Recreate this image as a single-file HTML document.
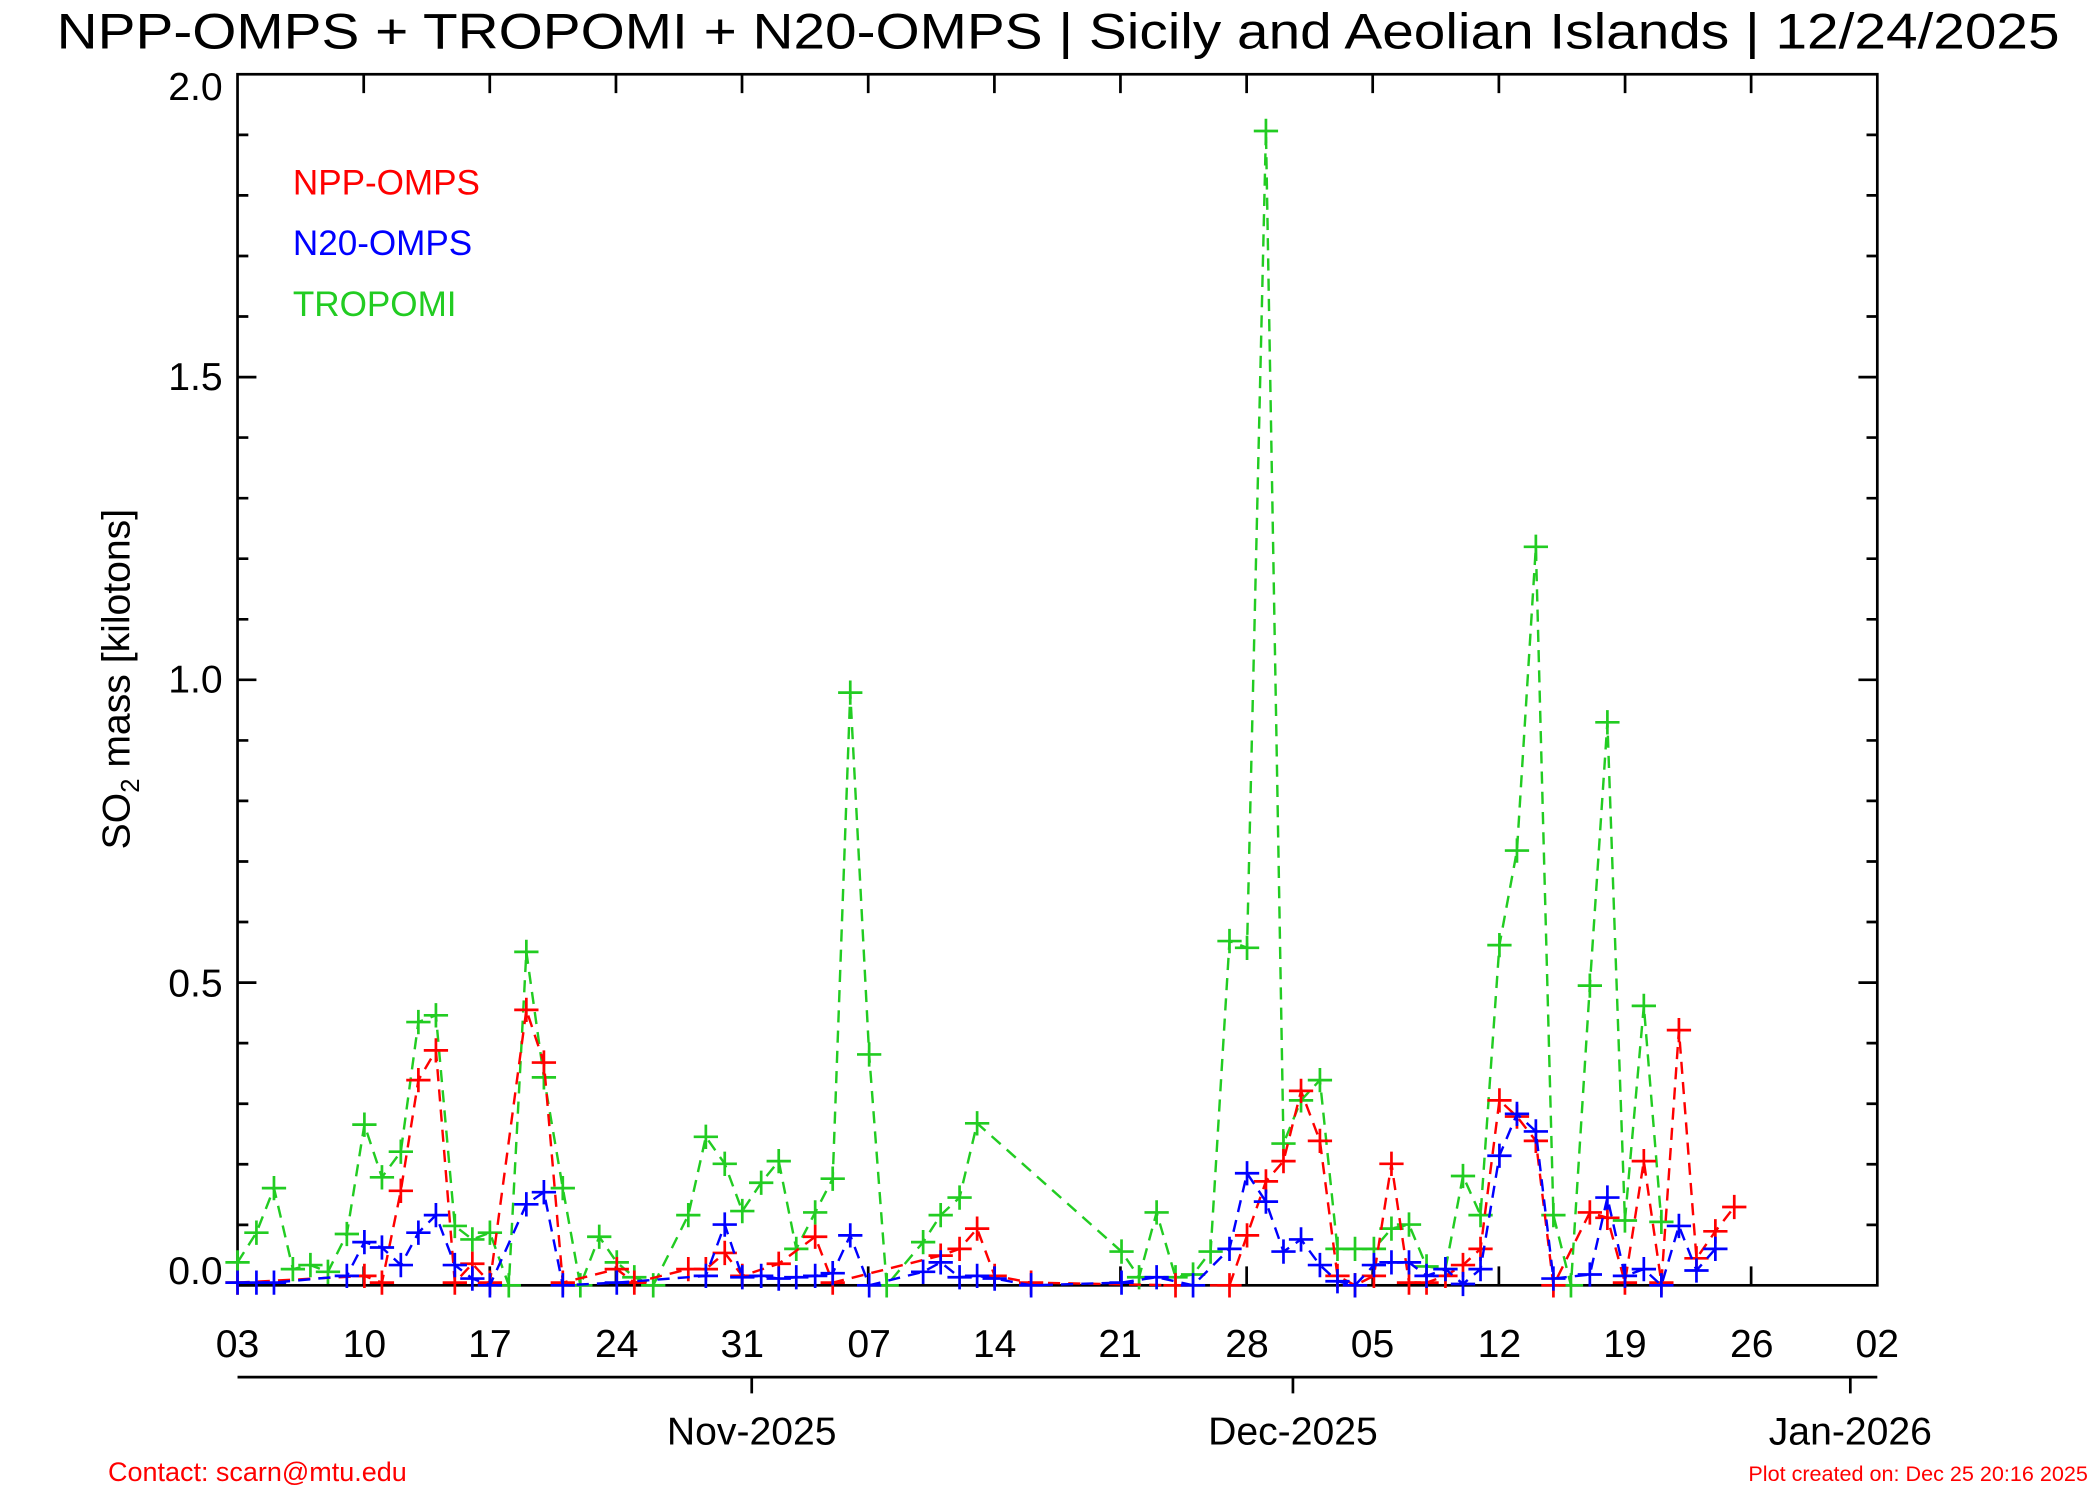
<!DOCTYPE html>
<html><head><meta charset="utf-8"><style>html,body{margin:0;padding:0;background:#fff}svg{display:block}</style></head><body>
<svg width="2100" height="1500" viewBox="0 0 1556 1111" preserveAspectRatio="none" xmlns="http://www.w3.org/2000/svg" font-family="Liberation Sans, sans-serif">
<defs>
<marker id="mg" markerUnits="userSpaceOnUse" markerWidth="20" markerHeight="20" refX="10" refY="10" orient="0" overflow="visible"><path d="M1 10h18M10 1v18" stroke="#2c2" stroke-width="2" stroke-dasharray="none" fill="none"/></marker>
<marker id="mr" markerUnits="userSpaceOnUse" markerWidth="20" markerHeight="20" refX="10" refY="10" orient="0" overflow="visible"><path d="M1 10h18M10 1v18" stroke="#f00" stroke-width="2" stroke-dasharray="none" fill="none"/></marker>
<marker id="mb" markerUnits="userSpaceOnUse" markerWidth="20" markerHeight="20" refX="10" refY="10" orient="0" overflow="visible"><path d="M1 10h18M10 1v18" stroke="#00f" stroke-width="2" stroke-dasharray="none" fill="none"/></marker>
</defs>
<rect width="1556" height="1111" fill="#fff"/>
<text x="784" y="36" font-size="37" text-anchor="middle" textLength="1484" lengthAdjust="spacingAndGlyphs">NPP-OMPS + TROPOMI + N20-OMPS | Sicily and Aeolian Islands | 12/24/2025</text>
<g stroke="#000" stroke-width="2" fill="none">
<rect x="176" y="55" width="1215" height="897"/>
<line x1="176" y1="1020" x2="1391" y2="1020"/>
<path d="M176 952h14M176 907.2h8M176 862.3h8M176 817.5h8M176 772.6h8M176 727.8h14M176 682.9h8M176 638.1h8M176 593.2h8M176 548.4h8M176 503.5h14M176 458.7h8M176 413.8h8M176 369h8M176 324.1h8M176 279.3h14M176 234.4h8M176 189.6h8M176 144.7h8M176 99.9h8
M1391 907.2h-8M1391 862.3h-8M1391 817.5h-8M1391 772.6h-8M1391 727.8h-14M1391 682.9h-8M1391 638.1h-8M1391 593.2h-8M1391 548.4h-8M1391 503.5h-14M1391 458.7h-8M1391 413.8h-8M1391 369h-8M1391 324.1h-8M1391 279.3h-14M1391 234.4h-8M1391 189.6h-8M1391 144.7h-8M1391 99.9h-8
M269.5 952v-14M362.9 952v-14M456.4 952v-14M549.8 952v-14M643.3 952v-14M736.8 952v-14M830.2 952v-14M923.7 952v-14M1017.1 952v-14M1110.6 952v-14M1204.1 952v-14M1297.5 952v-14
M269.5 55v14M362.9 55v14M456.4 55v14M549.8 55v14M643.3 55v14M736.8 55v14M830.2 55v14M923.7 55v14M1017.1 55v14M1110.6 55v14M1204.1 55v14M1297.5 55v14
M557 1020v12M958 1020v12M1371 1020v12"/>
</g>
<g font-size="29" text-anchor="middle">
<text x="176" y="1005">03</text><text x="270" y="1005">10</text><text x="363" y="1005">17</text><text x="457" y="1005">24</text><text x="550" y="1005">31</text><text x="644" y="1005">07</text><text x="737" y="1005">14</text><text x="830" y="1005">21</text><text x="924" y="1005">28</text><text x="1017" y="1005">05</text><text x="1111" y="1005">12</text><text x="1204" y="1005">19</text><text x="1298" y="1005">26</text><text x="1391" y="1005">02</text>
<text x="557" y="1070">Nov-2025</text><text x="958" y="1070">Dec-2025</text><text x="1371" y="1070">Jan-2026</text>
</g>
<g font-size="29" text-anchor="end">
<text x="165" y="951">0.0</text><text x="165" y="738">0.5</text><text x="165" y="513">1.0</text><text x="165" y="289">1.5</text><text x="165" y="74">2.0</text>
</g>
<text transform="translate(96,503) rotate(-90)" font-size="29" text-anchor="middle">SO<tspan font-size="19" dy="7">2</tspan><tspan dy="-7"> mass [kilotons]</tspan></text>
<g font-size="26"><text x="217" y="144" fill="#f00">NPP-OMPS</text><text x="217" y="189" fill="#00f">N20-OMPS</text><text x="217" y="234" fill="#2c2">TROPOMI</text></g>
<text x="80" y="1097" font-size="20" fill="#f00">Contact: scarn@mtu.edu</text>
<text x="1547" y="1097" font-size="16" fill="#f00" text-anchor="end">Plot created on: Dec 25 20:16 2025</text>
<g fill="none" stroke-width="1.8" stroke-dasharray="9,6">
<polyline stroke="#2c2" marker-start="url(#mg)" marker-mid="url(#mg)" marker-end="url(#mg)" points="176,935 190,913 203,880 217,940 230,937 243,942 257,914 270,833 283,872 297,853 310,757 323,752 337,908 350,918 363,913 377,952 390,705 403,798 417,880 430,952 444,916 457,935 470,946 484,952 510,900 523,842 537,862 550,897 564,876 577,860 590,925 604,898 617,873 630,513 644,781 657,952 684,920 697,900 711,887 724,832 831,927 844,946 857,898 871,946 884,944 897,927 911,697 924,702 938,97 951,847 964,815 978,800 991,925 1004,925 1018,925 1031,910 1044,907 1057,938 1071,940 1084,871 1097,900 1111,700 1124,630 1138,405 1151,900 1164,952 1178,730 1191,535 1204,904 1218,745 1231,905"/>
<polyline stroke="#f00" marker-start="url(#mr)" marker-mid="url(#mr)" marker-end="url(#mr)" points="176,950 270,945 283,950 297,882 310,800 323,778 337,950 350,936 363,950 390,748 403,787 417,950 457,940 470,950 510,940 523,940 537,928 550,945 577,936 604,916 617,950 697,930 711,925 724,910 737,945 764,950 871,952 911,952 924,915 938,875 951,860 964,808 978,845 991,945 1004,952 1018,945 1031,862 1044,950 1057,950 1071,945 1084,937 1097,925 1111,815 1124,827 1138,845 1151,952 1178,898 1191,902 1204,950 1218,860 1231,950 1244,763 1257,932 1271,912 1285,894"/>
<polyline stroke="#00f" marker-start="url(#mb)" marker-mid="url(#mb)" marker-end="url(#mb)" points="176,950 190,950 203,950 257,945 270,920 283,924 297,937 310,913 323,900 337,937 350,947 363,952 390,892 403,883 417,952 457,950 523,945 537,907 550,946 564,945 577,947 590,946 604,945 617,943 630,915 644,952 684,942 697,935 711,946 724,945 737,947 764,952 831,950 857,946 884,952 911,925 924,869 938,890 951,927 964,918 978,937 991,949 1004,952 1018,937 1031,935 1044,935 1057,945 1071,940 1084,951 1097,940 1111,856 1124,825 1138,838 1151,947 1178,944 1191,887 1204,945 1218,940 1231,952 1244,908 1257,941 1271,925"/>
</g>
</svg>
</body></html>
